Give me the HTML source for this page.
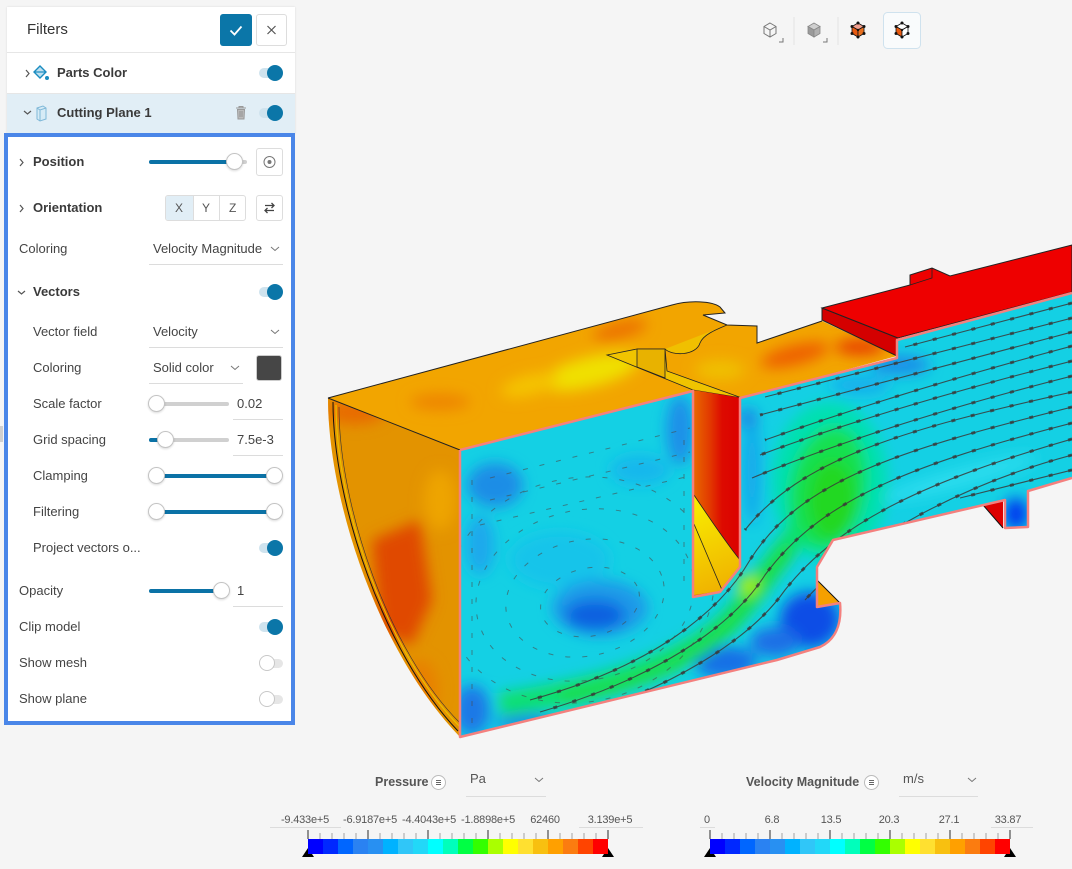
<!DOCTYPE html>
<html><head><meta charset="utf-8">
<style>
*{margin:0;padding:0;box-sizing:border-box}
body{width:1072px;height:869px;background:#f5f5f5;position:relative;overflow:hidden;font-family:"Liberation Sans",sans-serif;color:#444}
.a{position:absolute}
.t{position:absolute;font-size:13px;line-height:16px;white-space:nowrap;color:#444}
.b{font-weight:bold;color:#3a3a3a}
.tr{position:absolute;height:4px;background:#d0d0d0;border-radius:2px}
.fl{position:absolute;height:4px;background:#0b72a6;border-radius:2px}
.th{position:absolute;width:17px;height:17px;border-radius:50%;background:#fff;border:1px solid #c4c4c4;box-shadow:0 1px 2px rgba(0,0,0,.15)}
.ul{position:absolute;height:1px;background:#dcdcdc}
.ton{position:absolute;left:259px;width:22px;height:10px;border-radius:5px;background:#cfe3ee}
.tonk{position:absolute;left:267px;width:16px;height:16px;border-radius:50%;background:#0b76a8}
.tof{position:absolute;left:263px;width:20px;height:9px;border-radius:5px;background:#e6e6e6}
.tofk{position:absolute;left:259px;width:16px;height:16px;border-radius:50%;background:#fff;border:1px solid #c8c8c8}
.lbl{position:absolute;width:80px;text-align:center;font-size:11px;line-height:14px;color:#555;white-space:nowrap;letter-spacing:-0.2px}
.bar{position:absolute;top:839px;width:300px;height:15px;display:flex}
.bar div{flex:1}
</style></head><body>

<svg class="a" style="left:0;top:0" width="1072" height="869" xmlns="http://www.w3.org/2000/svg">
<defs>
<filter id="bl" x="-50%" y="-50%" width="200%" height="200%"><feGaussianBlur stdDeviation="7"/></filter>
<filter id="bs" x="-50%" y="-50%" width="200%" height="200%"><feGaussianBlur stdDeviation="3.5"/></filter>
<clipPath id="cC"><path d="M460,450 L693,391 L693,597 L720,592 L740,567 L740,398 L897,358 L897,340 L1072,293 L1072,478 L1028,491 L1028,527 L1005,528 L1005,500 L833,540 L817,567 L817,607 L840,603 C842,625 835,640 820,647 L777,660 L460,737 Z"/></clipPath>
<clipPath id="cL"><path d="M460,450 L328,398 C328,500 378,652 460,737 Z"/></clipPath>
<clipPath id="cT"><path d="M328,398 L672,305 C690,300 712,301 720,307 L725,313 L703,315 L727,325 L757,326 L757,343 L822,321 L897,356 L742,398 L693,390 L460,450 Z"/></clipPath>
<linearGradient id="slotg" gradientUnits="userSpaceOnUse" x1="693" y1="0" x2="742" y2="0">
<stop offset="0" stop-color="#e86a00"/><stop offset="0.35" stop-color="#e23800"/><stop offset="0.6" stop-color="#dd0a00"/><stop offset="1" stop-color="#dc0000"/></linearGradient>
<linearGradient id="wedg" gradientUnits="userSpaceOnUse" x1="694" y1="500" x2="730" y2="590">
<stop offset="0" stop-color="#f8ee00"/><stop offset="1" stop-color="#f0b000"/></linearGradient>
</defs>

<!-- left curved face -->
<path d="M460,450 L328,398 C328,500 378,652 460,737 Z" fill="#e39300"/>
<g clip-path="url(#cL)"><g filter="url(#bl)">
<path d="M372,540 L420,520 L432,600 L412,645 L380,632 Z" fill="#e04a00"/>
<ellipse cx="355" cy="412" rx="30" ry="12" fill="#e86a00"/>
<ellipse cx="440" cy="500" rx="16" ry="30" fill="#eea400"/>
<ellipse cx="345" cy="600" rx="10" ry="40" fill="#ec7800"/>
<ellipse cx="420" cy="690" rx="18" ry="30" fill="#e88000"/>
</g></g>
<path d="M333,402 C333,502 383,652 458,731" fill="none" stroke="#111" stroke-width="1"/>
<path d="M336,405 C336,505 386,652 460,727" fill="none" stroke="#e8c000" stroke-width="1.2"/>
<path d="M339,407 C339,507 389,652 460,723" fill="none" stroke="#333" stroke-width="0.6"/>

<!-- top face -->
<path d="M328,398 L672,305 C690,300 712,301 720,307 L725,313 L703,315 L727,325 L757,326 L757,343 L822,321 L897,356 L742,398 L693,390 L460,450 Z" fill="#f2a500"/>
<g clip-path="url(#cT)"><g filter="url(#bl)">
<ellipse cx="590" cy="372" rx="50" ry="15" transform="rotate(-14 590 372)" fill="#f0e000"/>
<ellipse cx="530" cy="385" rx="30" ry="10" transform="rotate(-14 530 385)" fill="#f5c400"/>
<ellipse cx="440" cy="402" rx="30" ry="8" fill="#ee8400"/>
<ellipse cx="620" cy="330" rx="28" ry="8" transform="rotate(-14 620 330)" fill="#ec7000"/>
<ellipse cx="795" cy="355" rx="35" ry="10" transform="rotate(-14 795 355)" fill="#ee6000"/>
<ellipse cx="860" cy="347" rx="25" ry="8" fill="#e84000"/>
<ellipse cx="720" cy="370" rx="25" ry="10" fill="#f0c000"/>
</g></g>
<path d="M328,398 L672,305 C690,300 712,301 720,307 L725,313 L703,315 L727,325 L757,326 L757,343 L822,321" fill="none" stroke="#222" stroke-width="1"/>
<path d="M328,398 L460,450" fill="none" stroke="#222" stroke-width="1"/>

<!-- notch -->
<path d="M607,355 L637,349 L665,349 L667,371 L742,398 L693,390 Z" fill="#f0c400" stroke="#222" stroke-width="0.8"/>
<path d="M637,349 L665,349 L665,378 L637,367 Z" fill="#e8b200" stroke="#222" stroke-width="0.8"/>
<path d="M665,349 C672,356 696,356 700,343 C703,335 715,330 727,325" fill="#f0c000" stroke="#222" stroke-width="0.8"/>

<!-- slot interior -->
<path d="M693,390 L742,398 L740,567 L720,592 L693,597 Z" fill="url(#slotg)"/>
<path d="M694,495 C712,522 728,545 740,560 L740,567 L721,591 L694,595 Z" fill="url(#wedg)"/>
<path d="M694,495 C712,522 728,545 740,560" fill="none" stroke="#222" stroke-width="0.8"/>
<path d="M694,524 L722,590" fill="none" stroke="#222" stroke-width="0.8"/>

<!-- red block -->
<path d="M822,308 L898,338 L897,356 L822,320 Z" fill="#d40000" stroke="#222" stroke-width="1"/>
<path d="M822,308 L910,285 L910,275 L932,268 L950,276 L1072,245 L1072,292 L898,338 Z" fill="#ee0000" stroke="#222" stroke-width="1"/>
<path d="M910,285 L932,278 L932,268" fill="none" stroke="#222" stroke-width="0.8"/>

<!-- small side faces -->
<path d="M983,505 L1003,499 L1003,528 Z" fill="#dd0000"/>
<path d="M983,505 L1003,528" stroke="#111" stroke-width="1"/>
<path d="M817,580 L840,603 L817,607 Z" fill="#f5a000"/>
<path d="M817,580 L840,603" stroke="#111" stroke-width="1"/>

<!-- cut plane -->
<path d="M460,450 L693,391 L693,597 L720,592 L740,567 L740,398 L897,358 L897,340 L1072,293 L1072,478 L1028,491 L1028,527 L1005,528 L1005,500 L833,540 L817,567 L817,607 L840,603 C842,625 835,640 820,647 L777,660 L460,737 Z" fill="#14d0e4"/>
<g clip-path="url(#cC)"><g filter="url(#bl)">
<ellipse cx="495" cy="485" rx="28" ry="22" fill="#1a8de6"/>
<ellipse cx="480" cy="545" rx="14" ry="30" fill="#1aa8ec"/>
<ellipse cx="680" cy="430" rx="14" ry="35" fill="#1a90e8"/>
<ellipse cx="640" cy="470" rx="30" ry="15" fill="#18b8ec"/>
<ellipse cx="560" cy="560" rx="50" ry="28" fill="#16c4ea"/>
<ellipse cx="600" cy="608" rx="48" ry="28" fill="#1a9ae8"/>
<ellipse cx="595" cy="615" rx="30" ry="15" fill="#1060e0"/>
<ellipse cx="472" cy="710" rx="18" ry="25" fill="#1a78e6"/>
<ellipse cx="525" cy="722" rx="30" ry="9" fill="#1a8ee8"/>
<ellipse cx="725" cy="662" rx="32" ry="16" fill="#1570e6"/>
<ellipse cx="830" cy="482" rx="58" ry="80" fill="#00e0b0"/>
<ellipse cx="828" cy="488" rx="38" ry="62" transform="rotate(10 828 488)" fill="#12e050"/>
<ellipse cx="832" cy="500" rx="24" ry="40" fill="#20d820"/>
<path d="M500,705 C600,690 690,665 735,615 C760,585 775,560 800,530" fill="none" stroke="#10e070" stroke-width="24"/>
<path d="M560,698 C640,685 700,660 740,612 C760,588 770,570 790,548" fill="none" stroke="#22dd22" stroke-width="10"/>
<circle cx="748" cy="585" r="10" fill="#a8f000"/>
<ellipse cx="900" cy="365" rx="30" ry="10" fill="#1a8ee8"/>
<ellipse cx="860" cy="385" rx="30" ry="10" fill="#18b0ec"/>
<ellipse cx="752" cy="470" rx="9" ry="55" fill="#18a8ec"/>
<ellipse cx="748" cy="418" rx="10" ry="10" fill="#1a88e6"/>
<ellipse cx="810" cy="620" rx="30" ry="28" fill="#0a4ee6"/>
<ellipse cx="775" cy="642" rx="25" ry="15" fill="#1a70e6"/>
<ellipse cx="1016" cy="514" rx="12" ry="16" fill="#0038f0"/>
<ellipse cx="960" cy="478" rx="80" ry="10" transform="rotate(-15 960 478)" fill="#2adcee"/>
</g>
<g fill="none" stroke="#3a3a3a" stroke-width="1.1" opacity="0.85">
<path d="M1072,303 L905,347"/><path d="M1072,318 L765,397"/><path d="M1072,332 L760,415"/>
<path d="M1072,346 Q900,392 765,440"/><path d="M1072,361 Q880,410 760,455"/><path d="M1072,376 Q880,425 752,478"/>
<path d="M1072,392 C900,430 800,460 745,530"/>
<path d="M1072,407 C900,450 800,480 750,560 C715,620 640,670 530,700"/>
<path d="M1072,423 C910,465 820,500 765,575 C730,630 650,680 540,712"/>
<path d="M1072,439 C930,480 840,520 785,590 C750,640 670,690 560,722"/>
<path d="M1072,455 C960,485 860,540 805,600"/><path d="M1072,470 L960,498"/>
</g>
<g fill="none" stroke="#3a3a3a" stroke-width="3" stroke-dasharray="4 16" opacity="0.8">
<path d="M1072,303 L905,347"/><path d="M1072,318 L765,397"/><path d="M1072,332 L760,415"/>
<path d="M1072,346 Q900,392 765,440"/><path d="M1072,361 Q880,410 760,455"/><path d="M1072,376 Q880,425 752,478"/>
<path d="M1072,392 C900,430 800,460 745,530"/>
<path d="M1072,407 C900,450 800,480 750,560 C715,620 640,670 530,700"/>
<path d="M1072,423 C910,465 820,500 765,575 C730,630 650,680 540,712"/>
<path d="M1072,439 C930,480 840,520 785,590 C750,640 670,690 560,722"/>
<path d="M1072,455 C960,485 860,540 805,600"/><path d="M1072,470 L960,498"/>
</g>
<g fill="none" stroke="#4a4a4a" stroke-width="1" stroke-dasharray="5 12" opacity="0.6">
<ellipse cx="585" cy="595" rx="110" ry="85" transform="rotate(-12 585 595)"/>
<ellipse cx="585" cy="598" rx="80" ry="58" transform="rotate(-12 585 598)"/>
<ellipse cx="590" cy="602" rx="50" ry="34" transform="rotate(-12 590 602)"/>
<ellipse cx="580" cy="590" rx="135" ry="112" transform="rotate(-12 580 590)"/>
<path d="M490,478 L690,428"/><path d="M490,500 L690,452"/><path d="M480,525 L690,476"/>
<path d="M472,480 L472,725"/><path d="M684,440 L684,592"/>
</g>
</g>
<path d="M460,450 L693,391 L693,597 L720,592 L740,567 L740,398 L897,358 L897,340 L1072,293 M1072,478 L1028,491 L1028,527 L1005,528 L1005,500 L833,540 L817,567 L817,607 L840,603 C842,625 835,640 820,647 L777,660 L460,737 L460,450" fill="none" stroke="#f4807e" stroke-width="2.5" stroke-linejoin="round"/>

<!-- legend ticks -->
<path d="M308,830V839M368,830V839M428,830V839M488,830V839M548,830V839M608,830V839M710,830V839M770,830V839M830,830V839M890,830V839M950,830V839M1010,830V839" stroke="#666" stroke-width="1.4"/>
<path d="M320,833V839M332,833V839M344,833V839M356,833V839M380,833V839M392,833V839M404,833V839M416,833V839M440,833V839M452,833V839M464,833V839M476,833V839M500,833V839M512,833V839M524,833V839M536,833V839M560,833V839M572,833V839M584,833V839M596,833V839M722,833V839M734,833V839M746,833V839M758,833V839M782,833V839M794,833V839M806,833V839M818,833V839M842,833V839M854,833V839M866,833V839M878,833V839M902,833V839M914,833V839M926,833V839M938,833V839M962,833V839M974,833V839M986,833V839M998,833V839" stroke="#b0b0b0" stroke-width="1.2"/>
<path d="M302,857L314,857L308,848Z M602,857L614,857L608,848Z M704,857L716,857L710,848Z M1004,857L1016,857L1010,848Z" fill="#000"/>

<!-- top view icons -->
<g fill="none" stroke="#777" stroke-width="1">
<path d="M770,23L776,26.5L776,33.5L770,37L764,33.5L764,26.5Z M764,26.5L770,30L776,26.5 M770,30V37"/>
<path d="M779,42H783V38"/>
<path d="M823,42H827V38"/>
</g>
<path d="M814,23L820,26.5L814,30L808,26.5Z" fill="#cfcfcf" stroke="#888" stroke-width="0.8"/>
<path d="M808,26.5L814,30L814,37L808,33.5Z" fill="#9a9a9a" stroke="#888" stroke-width="0.8"/>
<path d="M820,26.5L814,30L814,37L820,33.5Z" fill="#b0b0b0" stroke="#888" stroke-width="0.8"/>
<line x1="794" y1="17" x2="794" y2="45" stroke="#e2e2e2"/>
<line x1="838" y1="17" x2="838" y2="45" stroke="#e2e2e2"/>
<rect x="883.5" y="12.5" width="37" height="36" rx="4" fill="#f9fbfc" stroke="#cfe2ee"/>
<path d="M858,23L864,26.5L858,30L852,26.5Z" fill="#f2a090" stroke="#111" stroke-width="0.8"/>
<path d="M852,26.5L858,30L858,37L852,33.5Z" fill="#e85a10" stroke="#111" stroke-width="0.8"/>
<path d="M864,26.5L858,30L858,37L864,33.5Z" fill="#e87020" stroke="#111" stroke-width="0.8"/>
<path d="M902,23L908,26.5L902,30L896,26.5Z" fill="#fff" stroke="#111" stroke-width="0.8"/>
<path d="M896,26.5L902,30L902,37L896,33.5Z" fill="#e85a10" stroke="#111" stroke-width="0.8"/>
<path d="M908,26.5L902,30L902,37L908,33.5Z" fill="#fff" stroke="#111" stroke-width="0.8"/>
<g fill="#111"><circle cx="858" cy="23" r="1.5"/><circle cx="852" cy="26.5" r="1.5"/><circle cx="864" cy="26.5" r="1.5"/><circle cx="852" cy="33.5" r="1.5"/><circle cx="864" cy="33.5" r="1.5"/><circle cx="858" cy="37" r="1.5"/><circle cx="858" cy="30" r="1.2"/>
<circle cx="902" cy="23" r="1.5"/><circle cx="896" cy="26.5" r="1.5"/><circle cx="908" cy="26.5" r="1.5"/><circle cx="896" cy="33.5" r="1.5"/><circle cx="908" cy="33.5" r="1.5"/><circle cx="902" cy="37" r="1.5"/><circle cx="902" cy="30" r="1.2"/></g>
</svg>

<div class="a" style="left:0;top:426px;width:3px;height:16px;background:#cfcfcf"></div>

<!-- panel header card -->
<div class="a" style="left:7px;top:7px;width:288px;height:127px;background:#fff;box-shadow:0 0 2px rgba(0,0,0,.12)"></div>
<div class="t" style="left:27px;top:21px;font-size:15px;line-height:18px;color:#333">Filters</div>
<div class="a" style="left:220px;top:14px;width:32px;height:32px;background:#0b76a8;border-radius:3px">
<svg width="32" height="32"><polyline points="10.5,16.5 14.5,20.5 21.5,12.5" fill="none" stroke="#fff" stroke-width="1.8"/></svg></div>
<div class="a" style="left:256px;top:14px;width:31px;height:32px;border:1px solid #ddd;border-radius:3px;background:#fff">
<svg width="29" height="30"><path d="M10.5,11L18.5,19M18.5,11L10.5,19" stroke="#555" stroke-width="1.2"/></svg></div>
<div class="ul" style="left:7px;top:52px;width:288px;background:#e6e6e6"></div>

<svg class="a" style="left:24px;top:69px" width="8" height="9"><polyline points="2,1 5,4.5 2,8" fill="none" stroke="#555" stroke-width="1.2"/></svg>
<svg class="a" style="left:33px;top:64px" width="16" height="18"><path d="M7,2L13,8L7,14L1,8Z" fill="#bfe0f0" stroke="#1a8cc0" stroke-width="1.4"/><path d="M1,8L13,8" stroke="#1a8cc0" stroke-width="1.2"/><circle cx="14" cy="14" r="2" fill="#1a8cc0"/></svg>
<div class="t b" style="left:57px;top:65px">Parts Color</div>
<div class="ton" style="top:68px"></div><div class="tonk" style="top:65px"></div>
<div class="ul" style="left:7px;top:93px;width:288px;background:#e6e6e6"></div>

<div class="a" style="left:7px;top:94px;width:288px;height:39px;background:#e1eef6"></div>
<svg class="a" style="left:23px;top:109px" width="9" height="7"><polyline points="1,2 4.5,5 8,2" fill="none" stroke="#555" stroke-width="1.2"/></svg>
<svg class="a" style="left:34px;top:105px" width="14" height="17"><path d="M3,3L9,1L12,3L12,14L6,16L3,14Z" fill="#d6ebf6" stroke="#7fb8d8" stroke-width="1"/><path d="M6,5L6,16M3,3L6,5L12,3" fill="none" stroke="#7fb8d8" stroke-width="1"/></svg>
<div class="t b" style="left:57px;top:105px">Cutting Plane 1</div>
<svg class="a" style="left:235px;top:105px" width="12" height="15"><path d="M1,3H11M4,3V1.5H8V3M2.5,4.5H9.5L9,14H3Z" fill="#bbb" stroke="#999" stroke-width="1"/><path d="M5,6V12M7,6V12" stroke="#888" stroke-width="0.8"/></svg>
<div class="ton" style="top:108px"></div><div class="tonk" style="top:105px"></div>

<!-- blue box -->
<div class="a" style="left:4px;top:133px;width:291px;height:592px;border:4px solid #4a86e8;background:#fff"></div>

<svg class="a" style="left:18px;top:158px" width="8" height="9"><polyline points="2,1 5,4.5 2,8" fill="none" stroke="#555" stroke-width="1.2"/></svg>
<div class="t b" style="left:33px;top:154px">Position</div>
<div class="tr" style="left:149px;top:160px;width:98px"></div>
<div class="fl" style="left:149px;top:160px;width:86px"></div>
<div class="th" style="left:226px;top:153px"></div>
<div class="a" style="left:256px;top:148px;width:27px;height:28px;border:1px solid #ddd;border-radius:3px;background:#fff">
<svg width="25" height="26"><circle cx="12.5" cy="13" r="5.5" fill="none" stroke="#777" stroke-width="1"/><circle cx="12.5" cy="13" r="2" fill="#777"/></svg></div>

<svg class="a" style="left:18px;top:204px" width="8" height="9"><polyline points="2,1 5,4.5 2,8" fill="none" stroke="#555" stroke-width="1.2"/></svg>
<div class="t b" style="left:33px;top:200px">Orientation</div>
<div class="a" style="left:165px;top:195px;width:81px;height:26px;border:1px solid #ddd;border-radius:3px;background:#fff;overflow:hidden">
<div class="a" style="left:0;top:0;width:28px;height:24px;background:#e1eef6"></div>
<div class="a" style="left:27px;top:0;width:1px;height:24px;background:#ddd"></div>
<div class="a" style="left:53px;top:0;width:1px;height:24px;background:#ddd"></div>
<div class="t" style="left:9px;top:4px;font-size:12px;color:#555">X</div>
<div class="t" style="left:36px;top:4px;font-size:12px;color:#555">Y</div>
<div class="t" style="left:63px;top:4px;font-size:12px;color:#555">Z</div>
</div>
<div class="a" style="left:256px;top:195px;width:27px;height:26px;border:1px solid #ddd;border-radius:3px;background:#fff">
<svg width="25" height="24"><path d="M8,9.5H17M14.5,7L17,9.5L14.5,12M17,14.5H8M10.5,12L8,14.5L10.5,17" fill="none" stroke="#444" stroke-width="1.3"/></svg></div>

<div class="t" style="left:19px;top:241px">Coloring</div>
<div class="t" style="left:153px;top:241px">Velocity Magnitude</div>
<svg class="a" style="left:270px;top:246px" width="10" height="6"><polyline points="1,1 5,4.5 9,1" fill="none" stroke="#777" stroke-width="1"/></svg>
<div class="ul" style="left:149px;top:264px;width:134px"></div>

<svg class="a" style="left:17px;top:289px" width="9" height="7"><polyline points="1,2 4.5,5 8,2" fill="none" stroke="#555" stroke-width="1.2"/></svg>
<div class="t b" style="left:33px;top:284px">Vectors</div>
<div class="ton" style="top:287px"></div><div class="tonk" style="top:284px"></div>

<div class="t" style="left:33px;top:324px">Vector field</div>
<div class="t" style="left:153px;top:324px">Velocity</div>
<svg class="a" style="left:270px;top:329px" width="10" height="6"><polyline points="1,1 5,4.5 9,1" fill="none" stroke="#777" stroke-width="1"/></svg>
<div class="ul" style="left:149px;top:347px;width:134px"></div>

<div class="t" style="left:33px;top:360px">Coloring</div>
<div class="t" style="left:153px;top:360px">Solid color</div>
<svg class="a" style="left:230px;top:365px" width="10" height="6"><polyline points="1,1 5,4.5 9,1" fill="none" stroke="#777" stroke-width="1"/></svg>
<div class="ul" style="left:149px;top:383px;width:94px"></div>
<div class="a" style="left:256px;top:355px;width:26px;height:26px;background:#464646;border-radius:3px;border:1px solid #ccc"></div>

<div class="t" style="left:33px;top:396px">Scale factor</div>
<div class="tr" style="left:149px;top:402px;width:80px"></div>
<div class="th" style="left:148px;top:395px"></div>
<div class="t" style="left:237px;top:396px">0.02</div>
<div class="ul" style="left:233px;top:419px;width:50px"></div>

<div class="t" style="left:33px;top:432px">Grid spacing</div>
<div class="tr" style="left:149px;top:438px;width:80px"></div>
<div class="fl" style="left:149px;top:438px;width:17px"></div>
<div class="th" style="left:157px;top:431px"></div>
<div class="t" style="left:237px;top:432px">7.5e-3</div>
<div class="ul" style="left:233px;top:455px;width:50px"></div>

<div class="t" style="left:33px;top:468px">Clamping</div>
<div class="fl" style="left:157px;top:474px;width:118px"></div>
<div class="th" style="left:148px;top:467px"></div>
<div class="th" style="left:266px;top:467px"></div>

<div class="t" style="left:33px;top:504px">Filtering</div>
<div class="fl" style="left:157px;top:510px;width:118px"></div>
<div class="th" style="left:148px;top:503px"></div>
<div class="th" style="left:266px;top:503px"></div>

<div class="t" style="left:33px;top:540px">Project vectors o...</div>
<div class="ton" style="top:543px"></div><div class="tonk" style="top:540px"></div>

<div class="t" style="left:19px;top:583px">Opacity</div>
<div class="fl" style="left:149px;top:589px;width:73px"></div>
<div class="th" style="left:213px;top:582px"></div>
<div class="t" style="left:237px;top:583px">1</div>
<div class="ul" style="left:233px;top:606px;width:50px"></div>

<div class="t" style="left:19px;top:619px">Clip model</div>
<div class="ton" style="top:622px"></div><div class="tonk" style="top:619px"></div>

<div class="t" style="left:19px;top:655px">Show mesh</div>
<div class="tof" style="top:659px"></div><div class="tofk" style="top:655px"></div>

<div class="t" style="left:19px;top:691px">Show plane</div>
<div class="tof" style="top:695px"></div><div class="tofk" style="top:691px"></div>

<!-- Pressure legend -->
<div class="t" style="left:375px;top:774px;font-size:12.5px;font-weight:bold;color:#555">Pressure</div>
<div class="a" style="left:431px;top:775px;width:15px;height:15px;border:1px solid #bbb;border-radius:50%;background:#fff">
<svg width="13" height="13"><path d="M4,4.5H9M4,6.5H9M4,8.5H9" stroke="#666" stroke-width="0.9"/></svg></div>
<div class="t" style="left:470px;top:771px;color:#555">Pa</div>
<svg class="a" style="left:534px;top:777px" width="10" height="6"><polyline points="1,1 5,4.5 9,1" fill="none" stroke="#777" stroke-width="1"/></svg>
<div class="ul" style="left:466px;top:796px;width:80px"></div>
<div class="lbl" style="left:265px;top:813px">-9.433e+5</div>
<div class="lbl" style="left:330px;top:813px">-6.9187e+5</div>
<div class="lbl" style="left:389px;top:813px">-4.4043e+5</div>
<div class="lbl" style="left:448px;top:813px">-1.8898e+5</div>
<div class="lbl" style="left:505px;top:813px">62460</div>
<div class="lbl" style="left:570px;top:813px">3.139e+5</div>
<div class="ul" style="left:270px;top:827px;width:71px"></div>
<div class="ul" style="left:579px;top:827px;width:64px"></div>
<div class="bar" style="left:308px">
<div style="background:#0000ff"></div><div style="background:#0028ff"></div><div style="background:#0066ff"></div><div style="background:#2a82f2"></div><div style="background:#2890f2"></div><div style="background:#00b2ff"></div><div style="background:#30c6f8"></div><div style="background:#22d8f8"></div><div style="background:#00ffff"></div><div style="background:#00ffbb"></div><div style="background:#00ff44"></div><div style="background:#33ff00"></div><div style="background:#aaff00"></div><div style="background:#ffff00"></div><div style="background:#ffe030"></div><div style="background:#f8c010"></div><div style="background:#ffa000"></div><div style="background:#fb7c10"></div><div style="background:#ff4400"></div><div style="background:#ff0000"></div>
</div>

<!-- Velocity legend -->
<div class="t" style="left:746px;top:774px;font-size:12.5px;font-weight:bold;color:#555">Velocity Magnitude</div>
<div class="a" style="left:864px;top:775px;width:15px;height:15px;border:1px solid #bbb;border-radius:50%;background:#fff">
<svg width="13" height="13"><path d="M4,4.5H9M4,6.5H9M4,8.5H9" stroke="#666" stroke-width="0.9"/></svg></div>
<div class="t" style="left:903px;top:771px;color:#555">m/s</div>
<svg class="a" style="left:967px;top:777px" width="10" height="6"><polyline points="1,1 5,4.5 9,1" fill="none" stroke="#777" stroke-width="1"/></svg>
<div class="ul" style="left:899px;top:796px;width:79px"></div>
<div class="lbl" style="left:667px;top:813px">0</div>
<div class="lbl" style="left:732px;top:813px">6.8</div>
<div class="lbl" style="left:791px;top:813px">13.5</div>
<div class="lbl" style="left:849px;top:813px">20.3</div>
<div class="lbl" style="left:909px;top:813px">27.1</div>
<div class="lbl" style="left:968px;top:813px">33.87</div>
<div class="ul" style="left:700px;top:827px;width:15px"></div>
<div class="ul" style="left:991px;top:827px;width:42px"></div>
<div class="bar" style="left:710px">
<div style="background:#0000ff"></div><div style="background:#0028ff"></div><div style="background:#0066ff"></div><div style="background:#2a82f2"></div><div style="background:#2890f2"></div><div style="background:#00b2ff"></div><div style="background:#30c6f8"></div><div style="background:#22d8f8"></div><div style="background:#00ffff"></div><div style="background:#00ffbb"></div><div style="background:#00ff44"></div><div style="background:#33ff00"></div><div style="background:#aaff00"></div><div style="background:#ffff00"></div><div style="background:#ffe030"></div><div style="background:#f8c010"></div><div style="background:#ffa000"></div><div style="background:#fb7c10"></div><div style="background:#ff4400"></div><div style="background:#ff0000"></div>
</div>

</body></html>
